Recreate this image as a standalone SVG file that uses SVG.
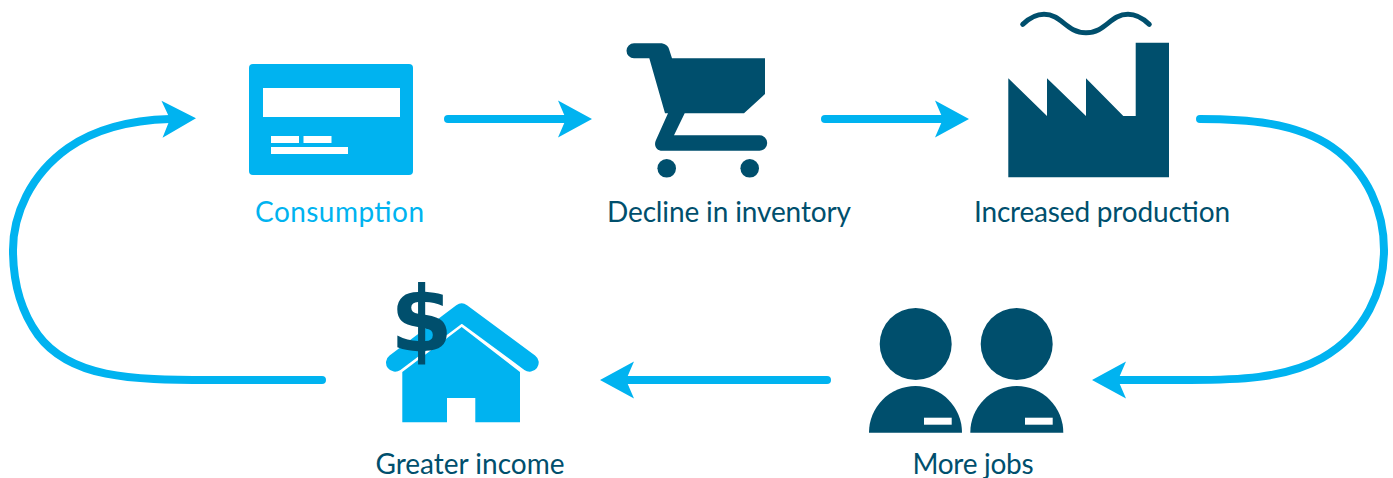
<svg xmlns="http://www.w3.org/2000/svg" width="1393" height="478" viewBox="0 0 1393 478">
<style>
.dark{fill:#004f6d}
.blue{fill:#00b3f0}
.white{fill:#fff}
.label{font-family:"Lato","Noto Sans",sans-serif;font-size:28px;text-anchor:middle;fill:#004f6d}
.conn{fill:none;stroke:#00b3f0;stroke-width:8;stroke-linecap:round;marker-end:url(#head)}
</style>
<defs>
<marker id="head" markerUnits="userSpaceOnUse" markerWidth="40" markerHeight="44" viewBox="-10 -22 40 44" refX="0" refY="0" orient="auto">
<path d="M0,0L-8,-18.500L26,0L-8,18.500Z" fill="#00b3f0"/>
</marker>
</defs>
<rect width="1393" height="478" fill="#fff"/>
<g id="connectors">
<path class="conn" d="M448,119H566"/>
<path class="conn" d="M825,119H943"/>
<path class="conn" d="M1200,119C1245,119 1295,122 1332,147C1368,172 1384,212 1384,250C1384,290 1366,333 1322,358C1285,379 1235,380 1190,380H1118"/>
<path class="conn" d="M827,380H626"/>
<path class="conn" d="M322,380H210C130,380 70,378 38,335C20,310 13,280 13,250C13,215 30,175 68,148C98,127 135,120 170,119"/>
</g>
<g id="consumption">
<rect class="blue" x="249" y="64" width="164" height="111" rx="4"/>
<rect class="white" x="263" y="88" width="137" height="29"/>
<rect class="white" x="271" y="136" width="28" height="7"/>
<rect class="white" x="303.500" y="136" width="28" height="7"/>
<rect class="white" x="271" y="147" width="77" height="7"/>
<text class="label" x="339.500" y="222" textLength="169" style="fill:#00b3f0">Consumption</text>
</g>
<g id="inventory">
<path class="dark" d="M634,43.300H660C665,43.300 668,46 669,49L672,58.300H765V94L744,113.300H684.700L674,135.300H759.500A7.700,7.700 0 0 1 759.500,150.700H662.500C656,150.700 653.500,145 656,140L668,113.300H665L649.300,58.300H634A7.500,7.500 0 0 1 634,43.300Z"/>
<circle class="dark" cx="666.700" cy="168.300" r="9.300"/>
<circle class="dark" cx="749.700" cy="168.300" r="9.300"/>
<text class="label" x="729" y="222" textLength="244">Decline in inventory</text>
</g>
<g id="production">
<path d="M1022.700,24.300C1030,17.500 1037,14.300 1044,14.300C1062,14.300 1066,32.700 1086,32.700C1106,32.700 1110,14.300 1128,14.300C1135,14.300 1142,17.500 1149.300,24.300" fill="none" stroke="#004f6d" stroke-width="5" stroke-linecap="round"/>
<path class="dark" d="M1008.300,78.300L1047,116V78.300L1086,116V78.300L1123.300,116H1135.700V42.700H1169V177.300H1008.300Z"/>
<text class="label" x="1102" y="222" textLength="256">Increased production</text>
</g>
<g id="jobs">
<circle class="dark" cx="915.700" cy="344" r="36"/>
<circle class="dark" cx="1016.700" cy="344" r="36"/>
<path class="dark" d="M869,432.700A46.500,46.700 0 0 1 962,432.700Z"/>
<path class="dark" d="M970.300,432.700A46.500,46.700 0 0 1 1063.300,432.700Z"/>
<rect class="white" x="924" y="417.700" width="27.700" height="7"/>
<rect class="white" x="1025" y="417.700" width="27.700" height="7"/>
<text class="label" x="973" y="474" textLength="121">More jobs</text>
</g>
<g id="income">
<path class="blue" d="M402.300,372L461.700,327L520,372V422.300H475.300V398H447V422.300H402.300Z"/>
<path d="M395,362.700L461.700,312.500L529.700,362.700" fill="none" stroke="#00b3f0" stroke-width="18" stroke-linecap="round" stroke-linejoin="round"/>
<text x="421.500" y="351" style="font-family:'DejaVu Sans',sans-serif;font-weight:700;font-size:90px;text-anchor:middle;fill:#004f6d">$</text>
<text class="label" x="470" y="474" textLength="189">Greater income</text>
</g>
</svg>
